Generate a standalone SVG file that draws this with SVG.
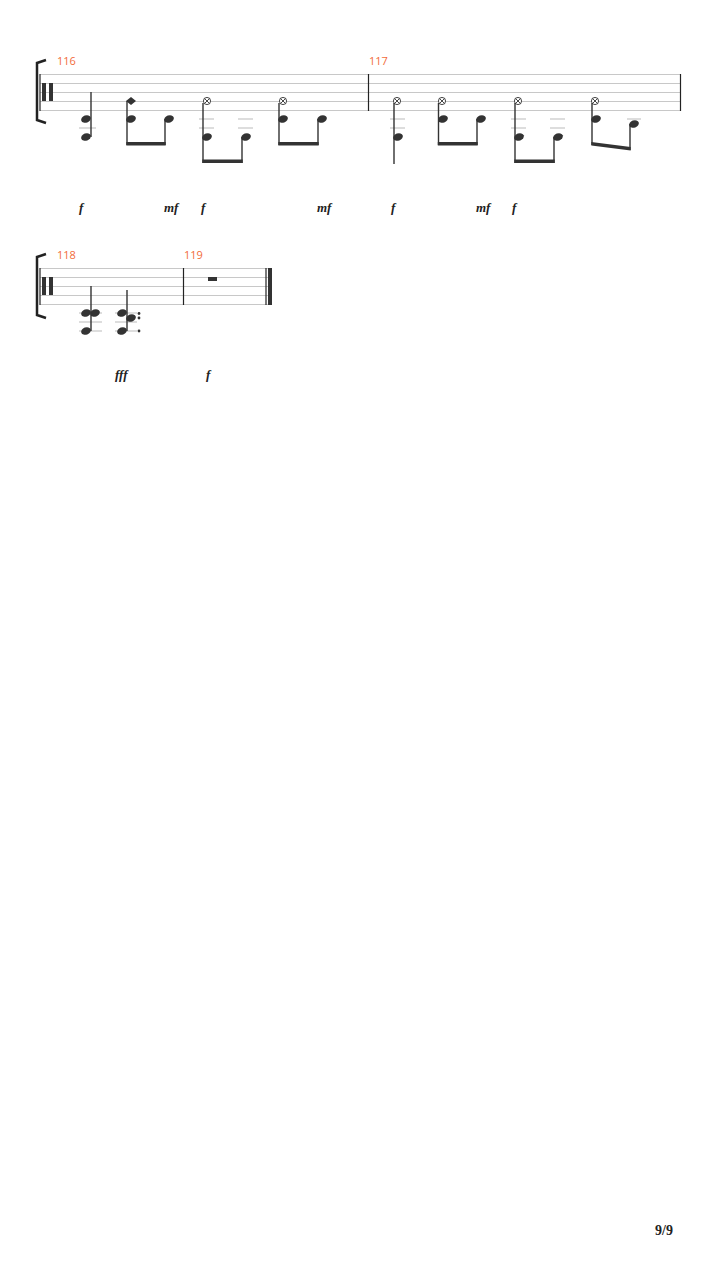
<svg xmlns="http://www.w3.org/2000/svg" width="720" height="1280" viewBox="0 0 720 1280">
<defs>
<style>
.sl{stroke:#c8c8c8;stroke-width:1}
.bar{stroke:#222;stroke-width:1.2}
.stem{stroke:#333;stroke-width:1.4}
.beam{fill:#333}
.hd{fill:#333}
.led{stroke:#bbb;stroke-width:1}
.num{font-family:"Open Sans","Liberation Sans",sans-serif;font-size:11px;fill:#f26b3a}
.dyn{font-family:"Liberation Serif",serif;font-style:italic;font-weight:bold;font-size:13px;fill:#222}
.x{fill:#fff;stroke:#333;stroke-width:0.9}
</style>
<ellipse id="h" rx="5" ry="3.6" transform="rotate(-20)" class="hd"/>
<g id="xh"><circle r="3.6" class="x"/><path d="M-2.5,-2.5L2.5,2.5M-2.5,2.5L2.5,-2.5" stroke="#333" stroke-width="0.9"/></g>
</defs>
<rect width="720" height="1280" fill="#fff"/>
<g id="system1">
<path d="M46,60 L37,63 L37,120 L46,123" fill="none" stroke="#222" stroke-width="2.5"/>
<g class="sl"><line x1="40" y1="74.5" x2="680" y2="74.5"/><line x1="40" y1="83.5" x2="680" y2="83.5"/><line x1="40" y1="92.5" x2="680" y2="92.5"/><line x1="40" y1="101.5" x2="680" y2="101.5"/><line x1="40" y1="110.5" x2="680" y2="110.5"/></g>
<line x1="40" y1="74" x2="40" y2="111" class="bar"/>
<rect x="42" y="83" width="4" height="18" fill="#333"/><rect x="49" y="83" width="4" height="18" fill="#333"/>
<line x1="368.5" y1="74" x2="368.5" y2="111" class="bar"/>
<line x1="680.5" y1="74" x2="680.5" y2="111" class="bar"/>
<text x="57" y="65" class="num">116</text><text x="369" y="65" class="num">117</text>
<g class="led"><line x1="79" y1="128" x2="96" y2="128"/><line x1="199" y1="119" x2="214" y2="119"/><line x1="199" y1="128" x2="214" y2="128"/><line x1="238" y1="119" x2="253" y2="119"/><line x1="238" y1="128" x2="253" y2="128"/>
<line x1="390" y1="119" x2="405" y2="119"/><line x1="390" y1="128" x2="405" y2="128"/><line x1="511" y1="119" x2="526" y2="119"/><line x1="511" y1="128" x2="526" y2="128"/><line x1="550" y1="119" x2="565" y2="119"/><line x1="550" y1="128" x2="565" y2="128"/><line x1="627" y1="119" x2="641" y2="119"/></g>
<g id="m116">
<use href="#h" x="86" y="119"/><use href="#h" x="86" y="137"/><line x1="91" y1="137" x2="91" y2="92" class="stem"/>
<path d="M131,97 L136,101 L131,105 L126,101Z" class="hd"/><use href="#h" x="131" y="119"/><use href="#h" x="169" y="119"/>
<line x1="127" y1="101" x2="127" y2="145" class="stem"/><line x1="165" y1="119" x2="165" y2="145" class="stem"/><rect x="126.3" y="142" width="39.4" height="3.5" class="beam"/>
<use href="#xh" x="207" y="101"/><use href="#h" x="207" y="137"/><use href="#h" x="246" y="137"/>
<line x1="203" y1="103" x2="203" y2="163" class="stem"/><line x1="242" y1="137" x2="242" y2="163" class="stem"/><rect x="202.3" y="159.5" width="40.4" height="3.5" class="beam"/>
<use href="#xh" x="283" y="101"/><use href="#h" x="283" y="119"/><use href="#h" x="322" y="119"/>
<line x1="279" y1="103" x2="279" y2="145" class="stem"/><line x1="318" y1="119" x2="318" y2="145" class="stem"/><rect x="278.3" y="142" width="40.4" height="3.5" class="beam"/>
</g>
<g id="m117">
<use href="#xh" x="397" y="101"/><use href="#h" x="398" y="137"/><line x1="394" y1="103" x2="394" y2="164" class="stem"/>
<use href="#xh" x="442" y="101"/><use href="#h" x="443" y="119"/><use href="#h" x="481" y="119"/>
<line x1="438.5" y1="103" x2="438.5" y2="145" class="stem"/><line x1="477" y1="119" x2="477" y2="145" class="stem"/><rect x="437.8" y="142" width="39.9" height="3.5" class="beam"/>
<use href="#xh" x="518" y="101"/><use href="#h" x="519" y="137"/><use href="#h" x="558" y="137"/>
<line x1="515" y1="103" x2="515" y2="163" class="stem"/><line x1="554" y1="137" x2="554" y2="163" class="stem"/><rect x="514.3" y="159.5" width="40.4" height="3.5" class="beam"/>
<use href="#xh" x="595" y="101"/><use href="#h" x="596" y="119"/><use href="#h" x="634" y="124"/>
<line x1="592" y1="103" x2="592" y2="145" class="stem"/><line x1="630" y1="124" x2="630" y2="150" class="stem"/><path d="M591.3,142 L630.7,147 L630.7,150.5 L591.3,145.5Z" class="beam"/>
</g>
<g id="dyn1"><text x="79" y="212" class="dyn">f</text><text x="164" y="212" class="dyn">mf</text><text x="201" y="212" class="dyn">f</text><text x="317" y="212" class="dyn">mf</text><text x="391" y="212" class="dyn">f</text><text x="476" y="212" class="dyn">mf</text><text x="512" y="212" class="dyn">f</text></g>
</g>
<g id="system2">
<path d="M46,254 L37,257 L37,315 L46,318" fill="none" stroke="#222" stroke-width="2.5"/>
<g class="sl"><line x1="40" y1="268.5" x2="270" y2="268.5"/><line x1="40" y1="277.5" x2="270" y2="277.5"/><line x1="40" y1="286.5" x2="270" y2="286.5"/><line x1="40" y1="295.5" x2="270" y2="295.5"/><line x1="40" y1="304.5" x2="270" y2="304.5"/></g>
<line x1="40" y1="268" x2="40" y2="305" class="bar"/>
<rect x="42" y="277" width="4" height="18" fill="#333"/><rect x="49" y="277" width="4" height="18" fill="#333"/>
<line x1="183.5" y1="268" x2="183.5" y2="305" class="bar"/>
<line x1="266" y1="268" x2="266" y2="305" class="bar"/><rect x="268" y="268" width="4" height="37" fill="#333"/>
<text x="57" y="259" class="num">118</text><text x="184" y="259" class="num">119</text>
<g class="led"><line x1="79" y1="313" x2="102" y2="313"/><line x1="79" y1="322" x2="102" y2="322"/><line x1="79" y1="331" x2="102" y2="331"/><line x1="115" y1="313" x2="137" y2="313"/><line x1="115" y1="322" x2="137" y2="322"/><line x1="115" y1="331" x2="137" y2="331"/></g>
<g id="m118">
<use href="#h" x="86" y="313"/><use href="#h" x="95" y="313"/><use href="#h" x="86" y="331"/><line x1="91" y1="331" x2="91" y2="286" class="stem"/>
<use href="#h" x="122" y="313"/><use href="#h" x="131" y="318"/><use href="#h" x="122" y="331"/><line x1="127" y1="331" x2="127" y2="290" class="stem"/>
<circle cx="139" cy="313.5" r="1.4" fill="#333"/><circle cx="139" cy="318" r="1.4" fill="#333"/><circle cx="139" cy="331" r="1.4" fill="#333"/>
</g>
<g id="m119"><rect x="208" y="277" width="9" height="4" fill="#333"/></g>
<g id="dyn2"><text x="115" y="379" class="dyn">fff</text><text x="206" y="379" class="dyn">f</text></g>
</g>
<text x="655" y="1235" font-family="Liberation Serif,serif" font-weight="bold" font-size="14" fill="#222">9/9</text>
</svg>
